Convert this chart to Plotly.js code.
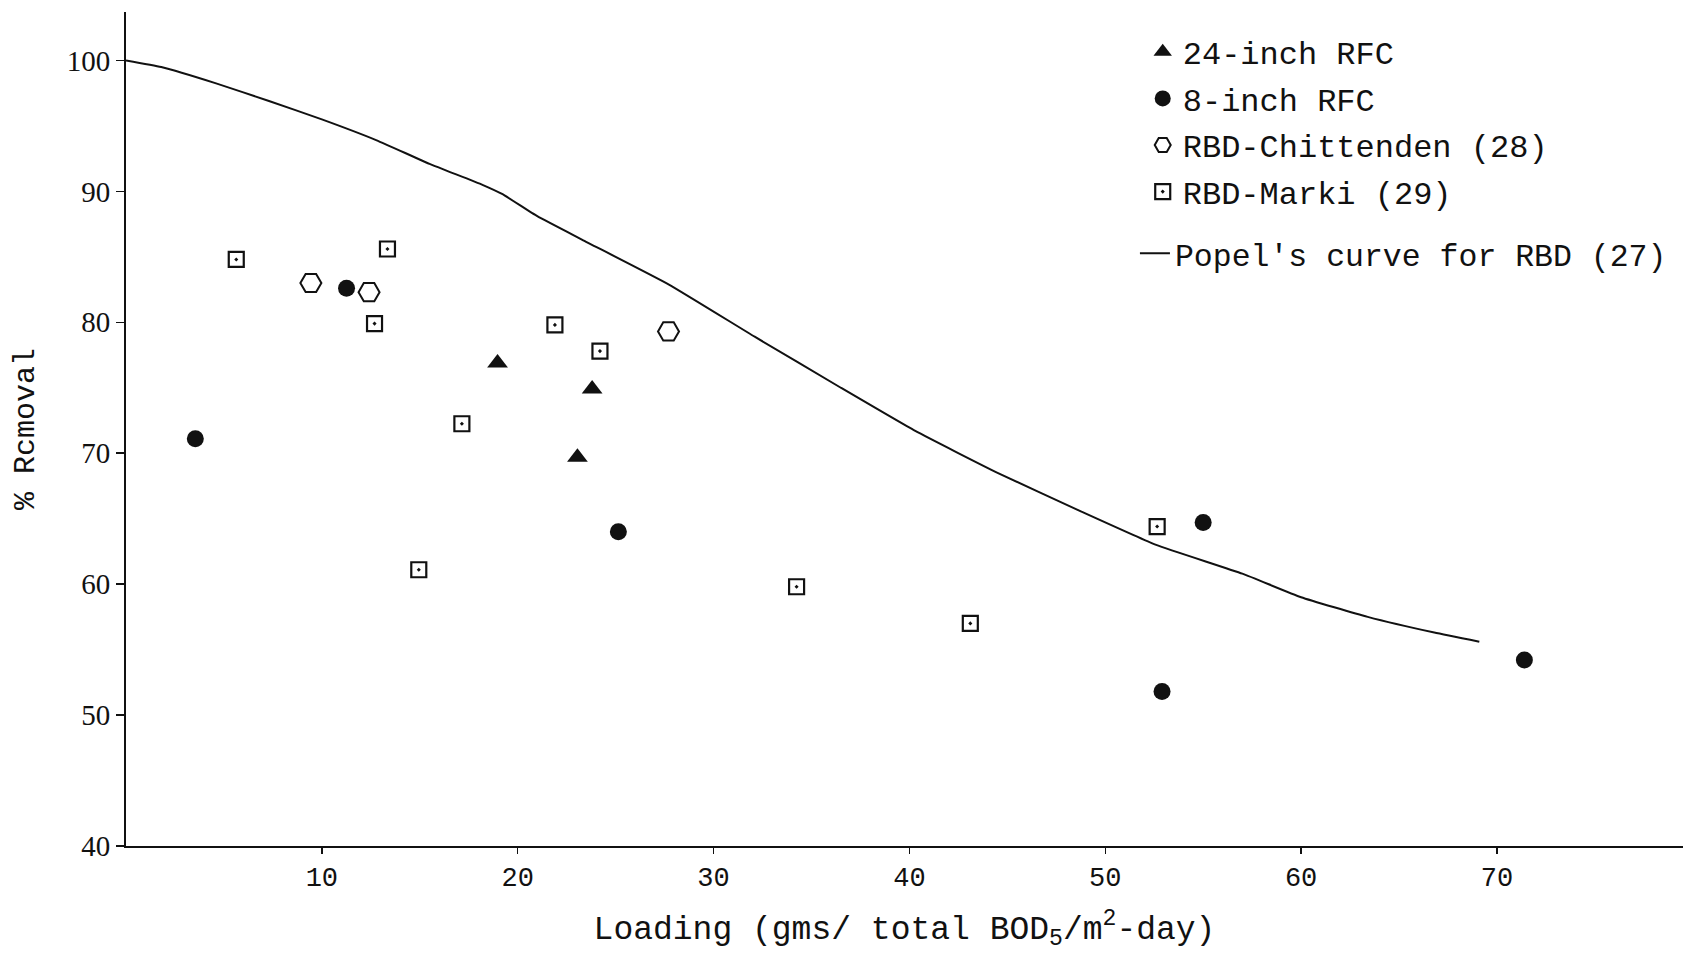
<!DOCTYPE html>
<html>
<head>
<meta charset="utf-8">
<script src="https://cdn.plot.ly/plotly-3.0.1.min.js"></script>
<style>
  html, body { margin: 0; padding: 0; background: #ffffff; }
  #chart { width: 1692px; height: 962px; }
</style>
</head>
<body>
<div id="chart"></div>
<script>
// Loading (g total BOD5 / m2-day) vs. % removal, by unit type

// 24-inch RFC
const rfc24Loading = [18.97, 23.8, 23.05];
const rfc24Removal = [76.9, 74.9, 69.7];

// 8-inch RFC
const rfc8Loading = [3.54, 11.26, 25.14, 55.0, 52.9, 71.4];
const rfc8Removal = [71.1, 82.6, 64.0, 64.7, 51.8, 54.2];

// RBD-Chittenden (28)
const chittendenLoading = [9.44, 12.41, 27.7];
const chittendenRemoval = [83.0, 82.3, 79.3];

// RBD-Marki (29)
const markiLoading = [5.63, 13.35, 12.69, 21.9, 24.2, 17.15, 14.95, 34.24, 43.11, 52.65];
const markiRemoval = [84.8, 85.6, 79.9, 79.8, 77.8, 72.25, 61.1, 59.8, 57.0, 64.4];

// Popel's curve for RBD (27)
const popelLoading = [0, 1.8, 4.6, 7.3, 10.0, 12.8, 15.5, 18.2, 19.2, 21.0, 23.3, 27.7, 32.1, 36.5, 40.3, 44.5, 48.7, 52.6, 57.0, 60.0, 63.4, 66.8, 69.1];
const popelRemoval = [100, 99.5, 98.25, 96.9, 95.5, 93.9, 92.1, 90.5, 89.8, 88.1, 86.3, 82.9, 78.9, 75.0, 71.7, 68.5, 65.6, 63.0, 60.8, 59.0, 57.5, 56.3, 55.6];

// Axis ticks
const xTicks = [10, 20, 30, 40, 50, 60, 70];
const yTicks = [40, 50, 60, 70, 80, 90, 100];

const INK = '#111111';
const MONO = 'Liberation Mono, DejaVu Sans Mono, monospace';
const SERIF = 'Liberation Serif, DejaVu Serif, serif';

const traces = [
  {
    x: rfc24Loading, y: rfc24Removal, name: '24-inch RFC',
    type: 'scatter', mode: 'markers', legendgroup: 'a',
    marker: { symbol: 'triangle-up', size: 18, color: INK }
  },
  {
    x: rfc8Loading, y: rfc8Removal, name: '8-inch RFC',
    type: 'scatter', mode: 'markers', legendgroup: 'b',
    marker: { symbol: 'circle', size: 17, color: INK }
  },
  {
    x: chittendenLoading, y: chittendenRemoval, name: 'RBD-Chittenden (28)',
    type: 'scatter', mode: 'markers', legendgroup: 'c',
    marker: { symbol: 'hexagon2-open', size: 21, color: INK, line: { width: 2, color: INK } }
  },
  {
    x: markiLoading, y: markiRemoval, name: 'RBD-Marki (29)',
    type: 'scatter', mode: 'markers', legendgroup: 'd',
    marker: { symbol: 'square-open-dot', size: 15, color: INK, line: { width: 2.2, color: INK } }
  },
  {
    x: popelLoading, y: popelRemoval, name: "Popel's curve for RBD (27)",
    type: 'scatter', mode: 'lines', legend: 'legend2',
    line: { color: INK, width: 2, shape: 'spline', smoothing: 0.4 }
  }
];

const layout = {
  width: 1692,
  height: 962,
  paper_bgcolor: '#ffffff',
  plot_bgcolor: '#ffffff',
  margin: { l: 126, r: 9, t: 12, b: 116 },
  font: { family: MONO, color: INK, size: 26 },
  showlegend: true,
  legend: {
    x: 0.653, y: 0.985, xanchor: 'left', yanchor: 'top',
    bgcolor: 'rgba(0,0,0,0)',
    font: { family: MONO, size: 32, color: INK },
    tracegroupgap: 2,
    itemwidth: 30
  },
  legend2: {
    x: 0.648, y: 0.743, xanchor: 'left', yanchor: 'top',
    bgcolor: 'rgba(0,0,0,0)',
    font: { family: MONO, size: 31.5, color: INK },
    itemwidth: 30
  },
  xaxis: {
    range: [0, 79.5],
    tickvals: xTicks,
    ticktext: xTicks.map(String),
    ticks: 'outside', ticklen: 6, tickwidth: 1.5, tickcolor: INK,
    showline: true, linecolor: INK, linewidth: 2,
    showgrid: false, zeroline: false,
    tickfont: { family: MONO, size: 27, color: INK },
    title: {
      text: 'Loading (gms/ total BOD<sub>5</sub>/m<sup>2</sup>-day)',
      font: { family: MONO, size: 33, color: INK },
      standoff: 22
    }
  },
  yaxis: {
    range: [40, 103.7],
    tickvals: yTicks,
    ticktext: yTicks.map(String),
    ticks: 'outside', ticklen: 8, tickwidth: 1.5, tickcolor: INK,
    showline: true, linecolor: INK, linewidth: 2,
    showgrid: false, zeroline: false,
    tickfont: { family: SERIF, size: 29, color: INK },
    title: {
      text: '% Rcmoval',
      font: { family: MONO, size: 30, color: INK },
      standoff: 23
    }
  }
};

Plotly.newPlot('chart', traces, layout, { displayModeBar: false, staticPlot: true });
</script>
</body>
</html>
